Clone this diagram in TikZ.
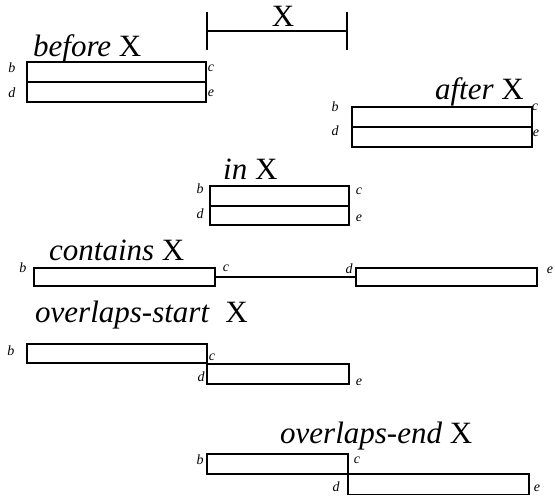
\documentclass[tikz,border=0pt]{standalone}
\usepackage{fontspec}
\setmainfont{Liberation Serif}
\begin{document}
\begin{tikzpicture}[x=1pt,y=-1pt,
  ibox/.style={draw,line width=1.8pt,rectangle,inner sep=0pt,anchor=north west},
  big/.style={inner sep=0pt,font=\fontsize{31}{37}\selectfont},
  lab/.style={inner sep=0pt,font=\fontsize{14}{16}\selectfont\itshape},
  bar/.style={line width=1.8pt}]
\useasboundingbox (0,0) rectangle (555,497);
% X interval
\coordinate (xl) at (207,31);
\coordinate (xr) at (347,31);
\coordinate (xlt) at (207,12);
\coordinate (xlb) at (207,50);
\coordinate (xrt) at (347,12);
\coordinate (xrb) at (347,50);
\draw[bar] (xl) -- (xr);
\draw[bar] (xlt) -- (xlb);
\draw[bar] (xrt) -- (xrb);
\node[big,anchor=base] (xlab) at (283,27) {X};
% before
\node[big,anchor=base west] (tbefore) at (33,57) {\textit{before} X};
\node[ibox,minimum width=179,minimum height=20] (bef1) at (26,61) {};
\node[ibox,minimum width=179,minimum height=20] (bef2) at (26,81) {};
\node[lab] (befb) at (12,68) {b};
\node[lab] (befc) at (211,68) {c};
\node[lab] (befd) at (12,93) {d};
\node[lab] (befe) at (211,93) {e};
% after
\node[big,anchor=base east] (tafter) at (524,100) {\textit{after} X};
\node[ibox,minimum width=180,minimum height=20] (aft1) at (351,106) {};
\node[ibox,minimum width=180,minimum height=20] (aft2) at (351,126) {};
\node[lab] (aftb) at (335,107) {b};
\node[lab] (aftc) at (535,107) {c};
\node[lab] (aftd) at (335,131) {d};
\node[lab] (afte) at (536,133) {e};
% in
\node[big,anchor=base west] (tin) at (223,180) {\textit{in} X};
\node[ibox,minimum width=139,minimum height=20.5] (in1) at (209,185) {};
\node[ibox,minimum width=139,minimum height=19] (in2) at (209,205.5) {};
\node[lab] (inb) at (200,189) {b};
\node[lab] (inc) at (359,191) {c};
\node[lab] (ind) at (200,214) {d};
\node[lab] (ine) at (359,218) {e};
% contains
\node[big,anchor=base west] (tcont) at (49,261) {\textit{contains} X};
\node[ibox,minimum width=181,minimum height=18.5] (con1) at (33,267) {};
\node[ibox,minimum width=181,minimum height=18.5] (con2) at (355,267) {};
\draw[line width=1.4pt] (con1.east) -- (con2.west);
\node[lab] (conb) at (23,268) {b};
\node[lab] (conc) at (226,268) {c};
\node[lab] (cond) at (349,269) {d};
\node[lab] (cone) at (550,270) {e};
% overlaps-start
\node[big,anchor=base west] (tos) at (35,323) {\textit{overlaps-start}\ \ X};
\node[ibox,minimum width=180,minimum height=19.5] (os1) at (26,343) {};
\node[ibox,minimum width=142,minimum height=20] (os2) at (206,363) {};
\node[lab] (osb) at (11,351) {b};
\node[lab] (osc) at (212,357) {c};
\node[lab] (osd) at (201,377) {d};
\node[lab] (ose) at (359,382) {e};
% overlaps-end
\node[big,anchor=base west] (toe) at (280,443) {\textit{overlaps-end} X};
\node[ibox,minimum width=141,minimum height=20] (oe1) at (206,453) {};
\node[ibox,minimum width=181,minimum height=20.5] (oe2) at (347,473) {};
\node[lab] (oeb) at (200,460) {b};
\node[lab] (oec) at (357,460) {c};
\node[lab] (oed) at (336,487) {d};
\node[lab] (oee) at (537,488) {e};
\end{tikzpicture}
\end{document}
